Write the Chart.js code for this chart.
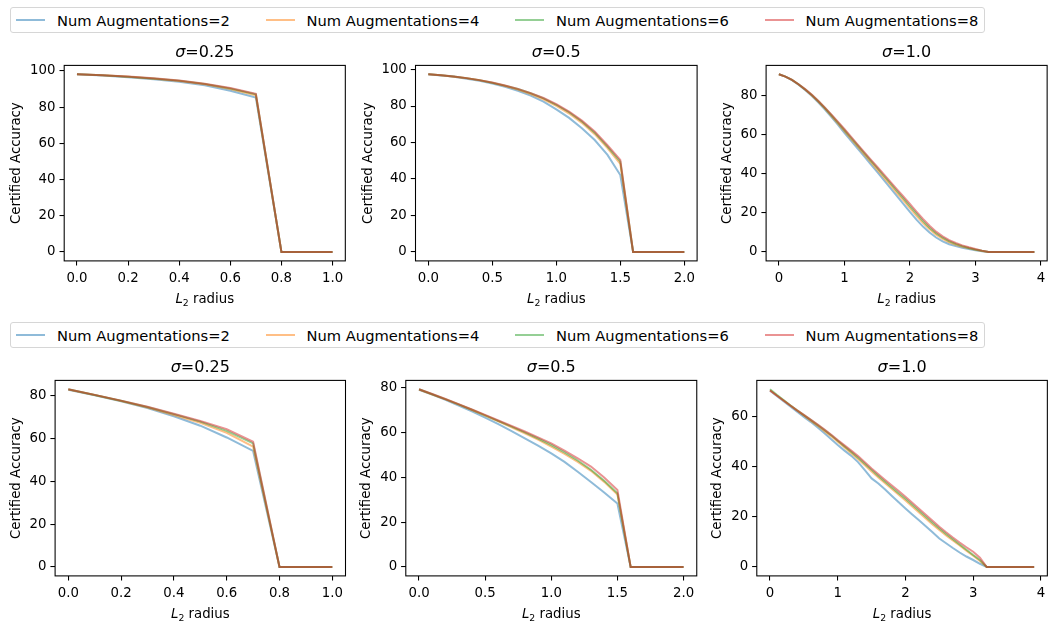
<!DOCTYPE html>
<html>
<head>
<meta charset="utf-8">
<script src="https://cdn.jsdelivr.net/npm/chart.js@4.4.0/dist/chart.umd.min.js"></script>
<style>
  html, body { margin: 0; padding: 0; background: #fff; overflow: hidden; }
  body { width: 1048px; height: 624px; position: relative; font-family: "DejaVu Sans", sans-serif; }
  canvas { position: absolute; }
  .legend { position: absolute; border: 1px solid #d6d6d6; border-radius: 3px; height: 26px; box-sizing: border-box; background: #fff; z-index: 2; }
  .item { position: absolute; top: 0; height: 100%; display: flex; align-items: center; font-size: 14.7px; color: #000; white-space: nowrap; }
  .swatch { display: inline-block; width: 29px; height: 2px; margin-right: 12px; }
</style>
</head>
<body>
<canvas id="c1"></canvas>
<canvas id="c2"></canvas>
<canvas id="c3"></canvas>
<canvas id="c4"></canvas>
<canvas id="c5"></canvas>
<canvas id="c6"></canvas>
<script>
// series shown in every panel
var seriesNames = ["Num Augmentations=2", "Num Augmentations=4", "Num Augmentations=6", "Num Augmentations=8"];
var sigmaLabels = ["0.25", "0.5", "1.0"];

// radius grids (x values)
var radiusS025 = [0.0, 0.1, 0.2, 0.3, 0.4, 0.5, 0.6, 0.7, 0.8, 0.9, 1.0];
var radiusS05 = [0.0, 0.1, 0.2, 0.3, 0.4, 0.5, 0.6, 0.7, 0.8, 0.9, 1.0, 1.1, 1.2, 1.3, 1.4, 1.5, 1.6, 1.7, 1.8, 1.9, 2.0];
var radiusS10 = [0.0, 0.1, 0.2, 0.3, 0.4, 0.5, 0.6, 0.7, 0.8, 0.9, 1.0, 1.1, 1.2, 1.3, 1.4, 1.5, 1.6, 1.7, 1.8, 1.9,
                 2.0, 2.1, 2.2, 2.3, 2.4, 2.5, 2.6, 2.7, 2.8, 2.9, 3.0, 3.1, 3.2, 3.3, 3.4, 3.5, 3.6, 3.7, 3.8, 3.9];

// tick labels
var xTicksS025 = ["0.0", "0.2", "0.4", "0.6", "0.8", "1.0"];
var xTicksS05 = ["0.0", "0.5", "1.0", "1.5", "2.0"];
var xTicksS10 = ["0", "1", "2", "3", "4"];
var yTicksTo100 = ["0", "20", "40", "60", "80", "100"];
var yTicksTo80 = ["0", "20", "40", "60", "80"];
var yTicksTo60 = ["0", "20", "40", "60"];

// top row, certified accuracy (N=2, 4, 6, 8)
var topS025 = [
  [98.2, 97.5, 96.6, 95.5, 94.1, 92.1, 89.1, 85.3, 0, 0, 0],
  [98.2, 97.6, 96.8, 95.8, 94.5, 92.7, 90.1, 86.6, 0, 0, 0],
  [98.2, 97.7, 96.9, 95.9, 94.7, 92.9, 90.4, 87.1, 0, 0, 0],
  [98.2, 97.7, 97.0, 96.0, 94.8, 93.0, 90.6, 87.4, 0, 0, 0]
];
var topS05 = [
  [97.4, 96.8, 96.0, 95.0, 93.8, 92.3, 90.5, 88.3, 85.7, 82.4, 78.2, 73.5, 67.8, 61.4, 53.2, 42.2, 0, 0, 0, 0, 0],
  [97.4, 96.9, 96.1, 95.2, 94.1, 92.7, 91.0, 89.0, 86.6, 83.7, 80.1, 75.9, 70.8, 64.6, 56.9, 48.3, 0, 0, 0, 0, 0],
  [97.4, 96.9, 96.2, 95.3, 94.2, 92.8, 91.2, 89.3, 87.0, 84.2, 80.7, 76.6, 71.5, 65.4, 57.8, 49.5, 0, 0, 0, 0, 0],
  [97.4, 96.9, 96.2, 95.3, 94.2, 92.9, 91.3, 89.4, 87.1, 84.4, 81.0, 77.0, 72.0, 66.0, 58.5, 50.5, 0, 0, 0, 0, 0]
];
var topS10 = [
  [90.9, 89.7, 87.9, 85.6, 82.9, 79.9, 76.6, 73.0, 69.1, 65.1, 61.0, 57.0, 53.0, 49.0, 45.0, 41.0, 36.9, 32.8, 28.7, 24.6,
   20.5, 16.6, 13.0, 10.0, 7.4, 5.4, 4.0, 3.0, 2.2, 1.5, 0.9, 0.4, 0, 0, 0, 0, 0, 0, 0, 0],
  [90.9, 89.7, 88.0, 85.7, 83.1, 80.2, 77.0, 73.5, 69.7, 65.8, 61.9, 57.9, 54.0, 50.0, 46.1, 42.2, 38.2, 34.3, 30.3, 26.4,
   22.4, 18.5, 14.8, 11.6, 8.9, 6.7, 5.0, 3.7, 2.7, 1.9, 1.2, 0.5, 0, 0, 0, 0, 0, 0, 0, 0],
  [90.9, 89.7, 88.0, 85.8, 83.2, 80.4, 77.2, 73.8, 70.1, 66.3, 62.4, 58.5, 54.6, 50.7, 46.8, 43.0, 39.1, 35.2, 31.3, 27.4,
   23.5, 19.6, 15.8, 12.4, 9.6, 7.3, 5.5, 4.1, 3.0, 2.1, 1.3, 0.6, 0, 0, 0, 0, 0, 0, 0, 0],
  [90.9, 89.7, 88.0, 85.8, 83.3, 80.5, 77.4, 74.0, 70.4, 66.7, 62.9, 59.0, 55.1, 51.2, 47.4, 43.6, 39.8, 36.0, 32.2, 28.4,
   24.6, 20.7, 16.9, 13.4, 10.4, 8.0, 6.1, 4.6, 3.4, 2.4, 1.5, 0.7, 0, 0, 0, 0, 0, 0, 0, 0]
];

// bottom row, certified accuracy (N=2, 4, 6, 8)
var botS025 = [
  [82.8, 80.2, 77.4, 74.2, 70.4, 66.0, 60.5, 54.2, 0, 0, 0],
  [82.9, 80.3, 77.5, 74.5, 71.0, 67.3, 62.7, 56.2, 0, 0, 0],
  [83.0, 80.3, 77.6, 74.7, 71.4, 67.9, 63.6, 57.7, 0, 0, 0],
  [83.0, 80.4, 77.7, 74.8, 71.6, 68.2, 64.4, 58.5, 0, 0, 0]
];
var botS05 = [
  [78.9, 76.7, 74.4, 71.9, 69.3, 66.5, 63.6, 60.5, 57.3, 54.0, 50.6, 46.8, 42.4, 37.8, 33.2, 28.3, 0, 0, 0, 0, 0],
  [79.0, 76.8, 74.6, 72.3, 69.9, 67.4, 64.8, 62.2, 59.5, 56.7, 53.6, 50.3, 46.8, 42.8, 37.9, 32.3, 0, 0, 0, 0, 0],
  [79.1, 76.9, 74.7, 72.4, 70.0, 67.5, 65.0, 62.5, 59.9, 57.2, 54.3, 51.0, 47.4, 43.3, 38.4, 32.8, 0, 0, 0, 0, 0],
  [79.1, 77.0, 74.8, 72.5, 70.1, 67.7, 65.2, 62.8, 60.3, 57.7, 55.0, 51.8, 48.4, 44.7, 39.8, 34.3, 0, 0, 0, 0, 0]
];
var botS10 = [
  [70.4, 68.3, 66.2, 64.1, 62.0, 60.0, 58.0, 55.8, 53.5, 51.1, 48.7, 46.5, 44.4, 41.9, 38.7, 35.4, 33.4, 31.0, 28.4, 25.9,
   23.4, 21.0, 18.7, 16.3, 13.9, 11.4, 9.5, 7.6, 5.8, 4.2, 2.8, 1.3, 0, 0, 0, 0, 0, 0, 0, 0],
  [70.6, 68.5, 66.5, 64.5, 62.5, 60.5, 58.5, 56.5, 54.4, 52.3, 50.0, 47.8, 45.5, 43.1, 40.7, 38.2, 35.8, 33.5, 31.2, 28.9,
   26.6, 24.2, 21.8, 19.4, 17.0, 14.8, 12.6, 10.6, 8.6, 6.5, 4.5, 2.4, 0, 0, 0, 0, 0, 0, 0, 0],
  [71.0, 68.8, 66.7, 64.6, 62.6, 60.7, 58.8, 56.8, 54.8, 52.7, 50.4, 48.2, 46.0, 43.7, 41.3, 38.8, 36.4, 34.1, 31.8, 29.5,
   27.3, 24.9, 22.5, 20.1, 17.7, 15.4, 13.2, 11.1, 9.0, 6.9, 4.8, 2.8, 0, 0, 0, 0, 0, 0, 0, 0],
  [70.5, 68.5, 66.5, 64.5, 62.6, 60.8, 58.9, 57.0, 55.0, 52.9, 50.7, 48.6, 46.5, 44.3, 41.9, 39.4, 37.1, 34.8, 32.6, 30.4,
   28.1, 25.7, 23.3, 20.9, 18.5, 16.1, 13.9, 11.8, 9.8, 7.9, 6.1, 3.7, 0, 0, 0, 0, 0, 0, 0, 0]
];

var FONT = '"DejaVu Sans", sans-serif';
var lineColors = ["rgba(31,119,180,0.5)", "rgba(255,127,14,0.5)", "rgba(44,160,44,0.5)", "rgba(214,39,40,0.5)"];
// same colours blended on white, for the legend swatches
var swatchColors = ["#8fbbd9", "#ffbf86", "#95cf95", "#ea9393"];
var TICK_SIZE = 13.3, TITLE_SIZE = 16, SPINE_W = 1.07;

// draws the axes frame, the title and both axis labels the matplotlib way
var mplDecor = {
  id: 'mplDecor',
  afterDraw: function(chart) {
    var o = chart.options.plugins.mplDecor;
    var a = chart.chartArea, ctx = chart.ctx;
    var cx = (a.left + a.right) / 2;
    ctx.save();
    ctx.strokeStyle = '#000';
    ctx.lineWidth = SPINE_W;
    ctx.strokeRect(a.left, a.top, a.right - a.left, a.bottom - a.top);

    ctx.fillStyle = '#000';
    ctx.textBaseline = 'alphabetic';
    ctx.textAlign = 'left';

    // title: italic sigma + "=value"
    ctx.font = 'italic ' + TITLE_SIZE + 'px ' + FONT;
    var w1 = ctx.measureText('σ').width;
    ctx.font = TITLE_SIZE + 'px ' + FONT;
    var rest = '=' + o.sigma;
    var w2 = ctx.measureText(rest).width;
    var tx = cx - (w1 + w2) / 2, ty = a.top - 8;
    ctx.font = 'italic ' + TITLE_SIZE + 'px ' + FONT;
    ctx.fillText('σ', tx, ty);
    ctx.font = TITLE_SIZE + 'px ' + FONT;
    ctx.fillText(rest, tx + w1, ty);

    // x label: italic L, subscript 2, " radius"
    var sub = TICK_SIZE * 0.7;
    ctx.font = 'italic ' + TICK_SIZE + 'px ' + FONT;
    var wl = ctx.measureText('L').width;
    ctx.font = sub + 'px ' + FONT;
    var ws = ctx.measureText('2').width;
    ctx.font = TICK_SIZE + 'px ' + FONT;
    var wr = ctx.measureText(' radius').width;
    var lx = cx - (wl + ws + wr) / 2, ly = a.bottom + 42;
    ctx.font = 'italic ' + TICK_SIZE + 'px ' + FONT;
    ctx.fillText('L', lx, ly);
    ctx.font = sub + 'px ' + FONT;
    ctx.fillText('2', lx + wl, ly + 2.6);
    ctx.font = TICK_SIZE + 'px ' + FONT;
    ctx.fillText(' radius', lx + wl + ws, ly);

    // y label, placed left of the widest tick label
    var maxW = 0;
    o.yLabels.forEach(function(t) { maxW = Math.max(maxW, ctx.measureText(t).width); });
    ctx.translate(a.left - maxW - 22, (a.top + a.bottom) / 2);
    ctx.rotate(-Math.PI / 2);
    ctx.textAlign = 'center';
    ctx.textBaseline = 'middle';
    ctx.fillText('Certified Accuracy', 0, 0);
    ctx.restore();
  }
};

function makePanel(id, box, radius, series, xLabels, yLabels, sigma) {
  var cv = document.getElementById(id);
  var L = box[0], T = box[1], R = box[2], B = box[3];
  var yW = 70, xH = 50;
  var cl = Math.floor(L) - yW, ct = Math.floor(T) - 40;
  var cw = Math.ceil(R) + 2 - cl, ch = Math.ceil(B) + xH - ct;
  cv.width = cw; cv.height = ch;
  cv.style.width = cw + 'px'; cv.style.height = ch + 'px';
  cv.style.left = cl + 'px'; cv.style.top = ct + 'px';

  var xMin = radius[0], xMax = radius[radius.length - 1];
  var yMax = 0;
  series.forEach(function(s) { s.forEach(function(v) { yMax = Math.max(yMax, v); }); });

  var datasets = series.map(function(s, i) {
    return {
      label: seriesNames[i],
      data: s.map(function(v, j) { return { x: radius[j], y: v }; }),
      borderColor: lineColors[i],
      borderWidth: 2,
      pointRadius: 0,
      fill: false,
      tension: 0,
      order: series.length - i
    };
  });

  var tickFont = { family: FONT, size: TICK_SIZE };
  var grid = { display: true, drawOnChartArea: false, drawTicks: true, tickLength: 4.7, color: '#000', lineWidth: SPINE_W };

  new Chart(cv.getContext('2d'), {
    type: 'line',
    data: { datasets: datasets },
    options: {
      responsive: false,
      animation: false,
      events: [],
      layout: {
        padding: { left: L - Math.floor(L), top: 40 + (T - Math.floor(T)), right: Math.ceil(R) + 2 - R, bottom: Math.ceil(B) - B }
      },
      plugins: {
        legend: { display: false },
        tooltip: { enabled: false },
        mplDecor: { sigma: sigma, yLabels: yLabels }
      },
      scales: {
        x: {
          type: 'linear',
          min: xMin - 0.05 * (xMax - xMin),
          max: xMax + 0.05 * (xMax - xMin),
          grid: grid,
          border: { display: false },
          afterBuildTicks: function(s) { s.ticks = xLabels.map(function(t) { return { value: parseFloat(t) }; }); },
          afterFit: function(s) { s.height = xH; },
          ticks: {
            font: tickFont, color: '#000', padding: 4.8, maxRotation: 0, minRotation: 0, autoSkip: false,
            callback: function(v, i) { return xLabels[i]; }
          }
        },
        y: {
          type: 'linear',
          min: -0.05 * yMax,
          max: 1.05 * yMax,
          grid: grid,
          border: { display: false },
          afterBuildTicks: function(s) { s.ticks = yLabels.map(function(t) { return { value: parseFloat(t) }; }); },
          afterFit: function(s) { s.width = yW; },
          ticks: {
            font: tickFont, color: '#000', padding: 4, autoSkip: false,
            callback: function(v, i) { return yLabels[i]; }
          }
        }
      }
    },
    plugins: [mplDecor]
  });
}

function buildLegend(top) {
  var box = document.createElement('div');
  box.className = 'legend';
  box.style.left = '10px';
  box.style.top = top + 'px';
  box.style.width = '975px';
  seriesNames.forEach(function(name, i) {
    var item = document.createElement('div');
    item.className = 'item';
    item.style.left = (5 + i * 249.5) + 'px';
    var sw = document.createElement('span');
    sw.className = 'swatch';
    sw.style.background = swatchColors[i];
    var tx = document.createElement('span');
    tx.textContent = name;
    item.appendChild(sw);
    item.appendChild(tx);
    box.appendChild(item);
  });
  document.body.appendChild(box);
}

makePanel('c1', [64.2, 65.4, 346.0, 260.9], radiusS025, topS025, xTicksS025, yTicksTo100, sigmaLabels[0]);
makePanel('c2', [415.5, 65.4, 697.1, 260.9], radiusS05, topS05, xTicksS05, yTicksTo100, sigmaLabels[1]);
makePanel('c3', [766.1, 65.4, 1047.5, 260.9], radiusS10, topS10, xTicksS10, yTicksTo80, sigmaLabels[2]);
makePanel('c4', [55.1, 380.4, 345.5, 575.9], radiusS025, botS025, xTicksS025, yTicksTo80, sigmaLabels[0]);
makePanel('c5', [405.8, 380.4, 697.0, 575.9], radiusS05, botS05, xTicksS05, yTicksTo80, sigmaLabels[1]);
makePanel('c6', [756.8, 380.4, 1047.5, 575.9], radiusS10, botS10, xTicksS10, yTicksTo60, sigmaLabels[2]);

buildLegend(7);
buildLegend(322);
</script>
</body>
</html>
